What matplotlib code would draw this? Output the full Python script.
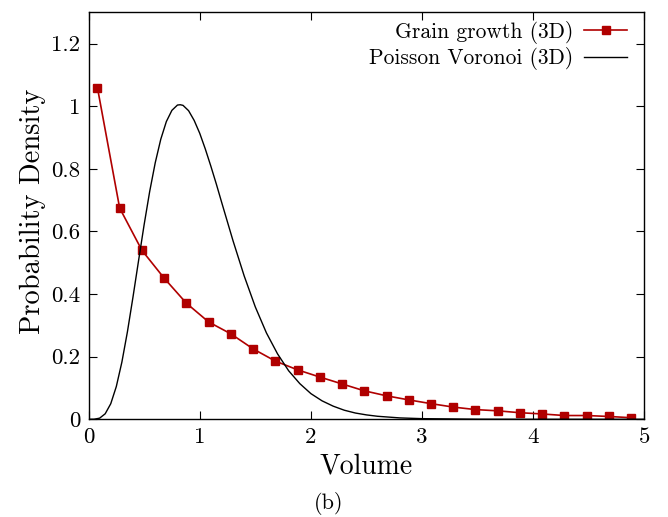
import numpy as np
import matplotlib
matplotlib.use("Agg")
import matplotlib.pyplot as plt
from matplotlib.ticker import FuncFormatter

# grain growth (3D) volume distribution
grain_x = [0.08, 0.28, 0.48, 0.68, 0.88, 1.08, 1.28, 1.48, 1.68, 1.88,
           2.08, 2.28, 2.48, 2.68, 2.88, 3.08, 3.28, 3.48, 3.68, 3.88,
           4.08, 4.28, 4.48, 4.68, 4.88]
grain_y = [1.06, 0.675, 0.54, 0.451, 0.371, 0.311, 0.273, 0.225, 0.186, 0.158,
           0.135, 0.113, 0.091, 0.075, 0.062, 0.050, 0.039, 0.031, 0.027, 0.021,
           0.017, 0.012, 0.012, 0.009, 0.005]

# poisson voronoi (3D)
voronoi_x = [0.0, 0.05, 0.1, 0.15, 0.2, 0.25, 0.3, 0.35, 0.4, 0.45, 0.5, 0.55,
             0.6, 0.65, 0.7, 0.75, 0.8, 0.825, 0.85, 0.9, 0.95, 1.0, 1.05,
             1.1, 1.15, 1.2, 1.3, 1.4, 1.5, 1.6, 1.7, 1.8, 1.9, 2.0, 2.1, 2.2,
             2.3, 2.4, 2.5, 2.6, 2.8, 3.0, 3.5, 4.0, 5.0]
voronoi_y = [0.0, 0.0002, 0.0036, 0.0176, 0.0497, 0.1046, 0.1825, 0.2797,
             0.3906, 0.5066, 0.6213, 0.7276, 0.8195, 0.8949, 0.9512, 0.9871,
             1.004, 1.005, 1.003, 0.986, 0.955, 0.914, 0.864, 0.809, 0.751,
             0.690, 0.570, 0.458, 0.359, 0.276, 0.209, 0.155, 0.114, 0.082,
             0.059, 0.042, 0.029, 0.020, 0.014, 0.0096, 0.0044, 0.0020,
             0.0003, 0.0, 0.0]

x_ticks = [0, 1, 2, 3, 4, 5]
y_ticks = [0, 0.2, 0.4, 0.6, 0.8, 1.0, 1.2]

plt.rcParams['font.family'] = ['cmr10', 'DejaVu Serif']
plt.rcParams['axes.formatter.use_mathtext'] = True
plt.rcParams['mathtext.fontset'] = 'cm'

fig = plt.figure(figsize=(6.68, 5.17), dpi=100)
ax = fig.add_axes([0.1325, 0.189, 0.8323, 0.787])

ax.plot(grain_x, grain_y, color='#b00000', lw=1.2, marker='s', ms=5.5,
        label='Grain growth (3D)')
ax.plot(voronoi_x, voronoi_y, color='black', lw=1.0,
        label='Poisson Voronoi (3D)')

ax.set_xlim(0, 5)
ax.set_ylim(0, 1.3)
ax.set_xticks(x_ticks)
ax.set_yticks(y_ticks)
ax.xaxis.set_major_formatter(FuncFormatter(lambda v, p: '%g' % v))
ax.yaxis.set_major_formatter(FuncFormatter(lambda v, p: '%g' % v))
ax.tick_params(direction='in', top=True, right=True, length=6, width=0.8,
               labelsize=16.5, pad=6)
for s in ax.spines.values():
    s.set_linewidth(1.0)

ax.set_xlabel('Volume', fontsize=20, labelpad=4)
ax.set_ylabel('Probability Density', fontsize=20.5)
ax.yaxis.set_label_coords(-0.077, 0.512)

ax.legend(loc='upper right', bbox_to_anchor=(0.9845, 1.0), frameon=False,
          markerfirst=False, fontsize=15.5, handlelength=2.0,
          borderaxespad=0.0, labelspacing=0.15, handletextpad=0.5)

fig.text(0.492, 0.027, '(b)', fontsize=16, ha='center', va='center')

fig.savefig('out.png', dpi=100)
